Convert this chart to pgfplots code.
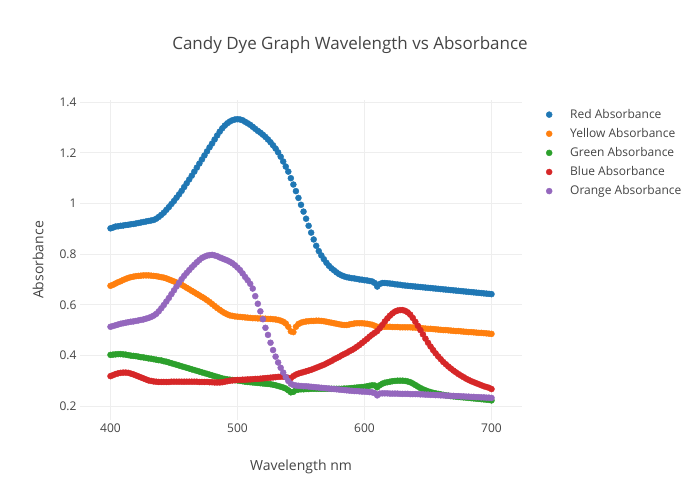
\documentclass[border=0pt]{standalone}
\usepackage{fontspec}
\setmainfont{Open Sans}
\usepackage{pgfplots}
\usepackage{pgfplotstable}
\pgfplotsset{compat=1.18}
\definecolor{cR}{HTML}{1F77B4}
\definecolor{cY}{HTML}{FF7F0E}
\definecolor{cG}{HTML}{2CA02C}
\definecolor{cB}{HTML}{D62728}
\definecolor{cO}{HTML}{9467BD}
\definecolor{txt}{HTML}{444444}
\definecolor{gridc}{HTML}{EEEEEE}
\pgfplotstableread{
wl R Y G B O
400 0.902 0.675 0.402 0.318 0.513
402 0.905 0.679 0.403 0.322 0.516
404 0.909 0.684 0.404 0.326 0.519
406 0.910 0.689 0.405 0.329 0.522
408 0.912 0.693 0.405 0.331 0.525
410 0.913 0.698 0.404 0.332 0.527
412 0.915 0.702 0.403 0.332 0.529
414 0.916 0.706 0.401 0.331 0.531
416 0.918 0.709 0.399 0.328 0.533
418 0.919 0.711 0.398 0.325 0.534
420 0.921 0.713 0.397 0.321 0.536
422 0.923 0.714 0.395 0.317 0.538
424 0.925 0.715 0.393 0.313 0.540
426 0.927 0.716 0.392 0.309 0.542
428 0.929 0.716 0.390 0.305 0.545
430 0.931 0.716 0.388 0.301 0.548
432 0.933 0.715 0.387 0.299 0.552
434 0.935 0.714 0.385 0.297 0.557
436 0.940 0.713 0.383 0.296 0.564
438 0.947 0.711 0.381 0.295 0.574
440 0.955 0.709 0.380 0.295 0.586
442 0.964 0.707 0.377 0.295 0.599
444 0.975 0.704 0.375 0.295 0.613
446 0.986 0.700 0.372 0.295 0.627
448 0.998 0.696 0.369 0.296 0.642
450 1.010 0.692 0.366 0.296 0.657
452 1.023 0.688 0.363 0.296 0.672
454 1.036 0.684 0.360 0.296 0.687
456 1.050 0.679 0.357 0.296 0.701
458 1.065 0.673 0.354 0.296 0.714
460 1.080 0.667 0.351 0.296 0.726
462 1.095 0.661 0.348 0.296 0.737
464 1.110 0.655 0.345 0.296 0.748
466 1.126 0.649 0.342 0.296 0.758
468 1.142 0.643 0.339 0.296 0.768
470 1.158 0.637 0.336 0.295 0.777
472 1.174 0.631 0.333 0.295 0.785
474 1.190 0.625 0.330 0.295 0.790
476 1.206 0.618 0.327 0.295 0.794
478 1.222 0.611 0.324 0.294 0.796
480 1.237 0.603 0.321 0.294 0.797
482 1.253 0.595 0.318 0.293 0.795
484 1.269 0.587 0.315 0.293 0.792
486 1.284 0.580 0.312 0.293 0.787
488 1.297 0.573 0.309 0.294 0.783
490 1.308 0.567 0.307 0.296 0.779
492 1.317 0.562 0.305 0.298 0.775
494 1.324 0.558 0.304 0.300 0.770
496 1.329 0.556 0.303 0.301 0.764
498 1.332 0.554 0.302 0.302 0.756
500 1.333 0.553 0.301 0.303 0.747
502 1.332 0.552 0.299 0.303 0.737
504 1.329 0.551 0.298 0.304 0.724
506 1.323 0.550 0.296 0.304 0.710
508 1.317 0.549 0.295 0.305 0.697
510 1.311 0.548 0.294 0.305 0.683
512 1.303 0.547 0.293 0.306 0.664
514 1.295 0.547 0.292 0.307 0.634
516 1.287 0.546 0.291 0.307 0.604
518 1.280 0.546 0.290 0.308 0.574
520 1.272 0.545 0.289 0.309 0.543
522 1.263 0.545 0.288 0.310 0.509
524 1.253 0.544 0.287 0.311 0.481
526 1.242 0.544 0.286 0.312 0.450
528 1.230 0.543 0.284 0.313 0.421
530 1.217 0.542 0.282 0.314 0.395
532 1.202 0.540 0.279 0.315 0.372
534 1.185 0.537 0.276 0.316 0.351
536 1.166 0.533 0.273 0.316 0.332
538 1.146 0.526 0.269 0.314 0.314
540 1.126 0.513 0.262 0.311 0.299
542 1.100 0.495 0.254 0.310 0.288
544 1.075 0.492 0.256 0.318 0.283
546 1.049 0.513 0.263 0.324 0.281
548 1.022 0.524 0.265 0.328 0.280
550 0.995 0.529 0.266 0.331 0.279
552 0.968 0.532 0.266 0.334 0.278
554 0.940 0.534 0.267 0.337 0.278
556 0.912 0.535 0.267 0.340 0.277
558 0.885 0.536 0.268 0.343 0.276
560 0.858 0.536 0.268 0.347 0.275
562 0.833 0.537 0.268 0.351 0.274
564 0.812 0.537 0.268 0.355 0.273
566 0.795 0.536 0.268 0.359 0.272
568 0.780 0.535 0.268 0.363 0.271
570 0.766 0.533 0.268 0.368 0.270
572 0.754 0.531 0.268 0.373 0.269
574 0.744 0.529 0.268 0.378 0.268
576 0.736 0.527 0.268 0.384 0.267
578 0.728 0.525 0.268 0.389 0.266
580 0.721 0.523 0.268 0.394 0.265
582 0.716 0.521 0.268 0.400 0.264
584 0.712 0.520 0.269 0.405 0.263
586 0.709 0.520 0.269 0.410 0.262
588 0.707 0.522 0.270 0.416 0.261
590 0.705 0.524 0.271 0.421 0.260
592 0.704 0.526 0.272 0.427 0.259
594 0.702 0.527 0.273 0.434 0.259
596 0.700 0.527 0.274 0.441 0.258
598 0.699 0.527 0.275 0.449 0.257
600 0.697 0.526 0.276 0.457 0.257
602 0.696 0.525 0.278 0.465 0.256
604 0.694 0.523 0.280 0.474 0.255
606 0.692 0.521 0.282 0.482 0.254
608 0.686 0.517 0.281 0.489 0.251
610 0.672 0.513 0.274 0.496 0.242
612 0.682 0.513 0.282 0.507 0.249
614 0.686 0.513 0.288 0.520 0.250
616 0.686 0.513 0.292 0.534 0.250
618 0.685 0.513 0.294 0.546 0.250
620 0.684 0.513 0.296 0.557 0.249
622 0.683 0.512 0.298 0.566 0.249
624 0.681 0.512 0.299 0.573 0.249
626 0.680 0.512 0.300 0.577 0.249
628 0.679 0.511 0.300 0.579 0.248
630 0.677 0.511 0.300 0.579 0.248
632 0.676 0.511 0.299 0.576 0.248
634 0.675 0.511 0.297 0.570 0.248
636 0.674 0.511 0.294 0.561 0.247
638 0.673 0.510 0.289 0.548 0.247
640 0.672 0.510 0.283 0.533 0.247
642 0.671 0.509 0.277 0.517 0.247
644 0.670 0.508 0.271 0.500 0.246
646 0.669 0.507 0.266 0.483 0.246
648 0.668 0.506 0.262 0.466 0.245
650 0.667 0.505 0.258 0.450 0.245
652 0.666 0.505 0.255 0.435 0.244
654 0.665 0.504 0.252 0.421 0.244
656 0.664 0.503 0.250 0.408 0.243
658 0.663 0.502 0.248 0.396 0.243
660 0.662 0.501 0.246 0.385 0.242
662 0.661 0.500 0.244 0.374 0.242
664 0.660 0.500 0.242 0.365 0.241
666 0.659 0.499 0.241 0.356 0.241
668 0.658 0.498 0.239 0.348 0.240
670 0.657 0.497 0.238 0.340 0.240
672 0.656 0.496 0.237 0.333 0.239
674 0.655 0.496 0.236 0.326 0.239
676 0.654 0.495 0.235 0.320 0.238
678 0.653 0.494 0.234 0.314 0.238
680 0.652 0.493 0.233 0.308 0.237
682 0.651 0.492 0.232 0.303 0.237
684 0.650 0.492 0.231 0.298 0.236
686 0.649 0.491 0.230 0.294 0.236
688 0.648 0.490 0.229 0.290 0.235
690 0.647 0.489 0.228 0.286 0.235
692 0.646 0.489 0.227 0.282 0.234
694 0.645 0.488 0.226 0.278 0.234
696 0.644 0.487 0.225 0.275 0.233
698 0.643 0.486 0.224 0.272 0.233
700 0.642 0.485 0.222 0.267 0.232
}\dyedata
\begin{document}
\begin{tikzpicture}[x=1pt,y=1pt]
\useasboundingbox (0,0) rectangle (700,500);
\begin{axis}[
  at={(80pt,80pt)}, anchor=south west,
  scale only axis, width=442pt, height=320pt,
  xmin=376, xmax=724, ymin=0.1447, ymax=1.409,
  xtick={400,500,600,700},
  ytick={0.2,0.4,0.6,0.8,1,1.2,1.4},
  /pgf/number format/assume math mode=true,
  tick label style={font=\fontsize{12}{14}\selectfont, text=txt},
  major tick length=0pt,
  axis line style={draw=none},
  grid=major,
  grid style={draw=gridc, line width=1pt},
  legend style={at={(1.0475,0.984)}, anchor=north west, draw=none, fill=none,
    font=\fontsize{12}{14}\selectfont, text=txt, row sep=4.5pt},
  legend cell align=left,
  legend image code/.code={\draw[#1] plot coordinates {(0pt,0pt)}; \path[draw=none,fill=none] (-3pt,-3pt) (19pt,3pt);},
  every axis plot/.append style={only marks, mark=*, mark size=3pt},
]
\addplot[cR, mark options={draw=none, fill=cR}] table[x=wl, y=R] {\dyedata};
\addlegendentry{Red Absorbance}
\addplot[cY, mark options={draw=none, fill=cY}] table[x=wl, y=Y] {\dyedata};
\addlegendentry{Yellow Absorbance}
\addplot[cG, mark options={draw=none, fill=cG}] table[x=wl, y=G] {\dyedata};
\addlegendentry{Green Absorbance}
\addplot[cB, mark options={draw=none, fill=cB}] table[x=wl, y=B] {\dyedata};
\addlegendentry{Blue Absorbance}
\addplot[cO, mark options={draw=none, fill=cO}] table[x=wl, y=O] {\dyedata};
\addlegendentry{Orange Absorbance}
\end{axis}
\node[text=txt, font=\fontsize{17}{20}\selectfont] at (350,455) {Candy Dye Graph Wavelength vs Absorbance};
\node[text=txt, font=\fontsize{14}{17}\selectfont] at (301,33) {Wavelength nm};
\node[text=txt, font=\fontsize{14}{17}\selectfont, rotate=90] at (38,240) {Absorbance};
\end{tikzpicture}
\end{document}
